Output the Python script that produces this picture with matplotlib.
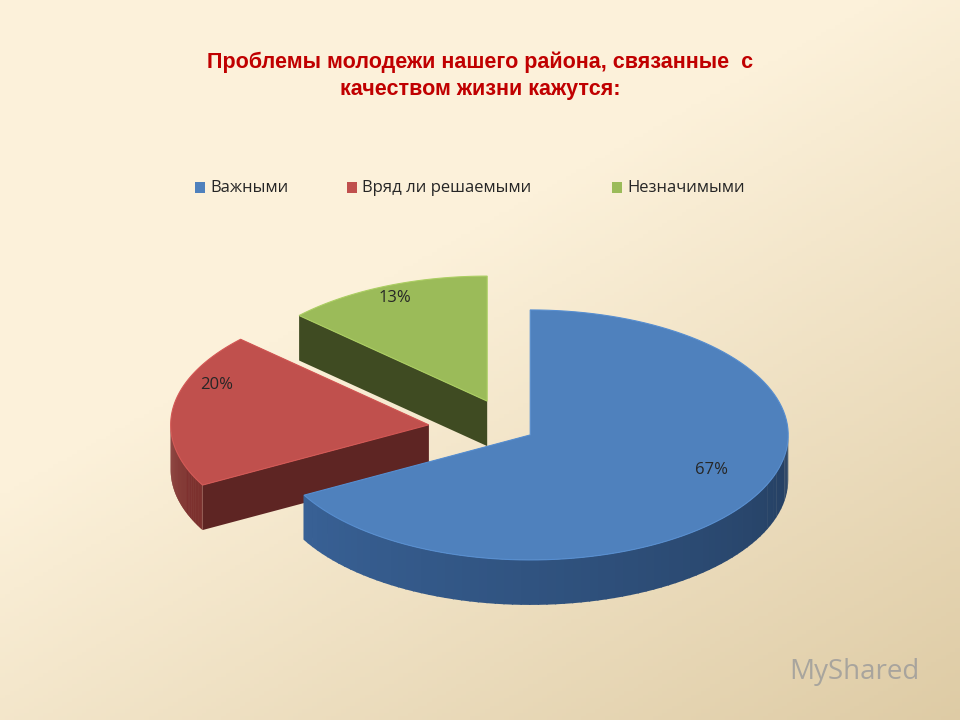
import numpy as np
import matplotlib.pyplot as plt
from matplotlib.patches import Polygon
from matplotlib.colors import to_rgb

labels = ["Важными", "Вряд ли решаемыми", "Незначимыми"]
shares = [67, 20, 13]
top_colors = ["#4F81BD", "#C0504D", "#9BBB59"]
side_colors = ["#2B4A72", "#5E2523", "#3F4B22"]
explode = [20, 85, 65]

fig = plt.figure(figsize=(9.6, 7.2), dpi=100)
bg = fig.add_axes([0, 0, 1, 1])
yy, xx = np.mgrid[0:1:200j, 0:1:200j]
t = np.clip((xx * 0.6 + yy * 0.8) - 0.55, 0, 1)
c0, c1 = np.array(to_rgb("#FCF1DA")), np.array(to_rgb("#D9C59C"))
bg.imshow(c0 + (c1 - c0) * t[..., None], extent=[0, 960, 720, 0], aspect="auto")
ax = bg
ax.set_xlim(0, 960); ax.set_ylim(720, 0); ax.axis("off")

cx, cy, rx, ry, depth = 513, 430, 258, 125, 45

def pt(th, ox, oy):
    r = np.radians(th)
    return cx + rx * np.sin(r) + ox, cy - ry * np.cos(r) + oy

def shade(c, f):
    return tuple(np.clip(np.array(to_rgb(c)) * f, 0, 1))

starts = np.concatenate([[0], np.cumsum(shares)[:-1]]) * 3.6
wedges = []
for i, s in enumerate(shares):
    a0, a1 = starts[i], starts[i] + s * 3.6
    m = np.radians((a0 + a1) / 2)
    ox, oy = explode[i] * np.sin(m), -explode[i] * np.cos(m) * ry / rx
    wedges.append((i, a0, a1, ox, oy))

# painter order: back wedges first
for i, a0, a1, ox, oy in sorted(wedges, key=lambda w: w[4]):
    c = (cx + ox, cy + oy)
    for a in (a0, a1):
        p = pt(a, ox, oy)
        ax.add_patch(Polygon([c, p, (p[0], p[1] + depth), (c[0], c[1] + depth)],
                             closed=True, fc=side_colors[i], ec="none"))
    lo, hi = max(a0, 90), min(a1, 270)
    if hi > lo:
        th = np.linspace(lo, hi, 80)
        for k in range(len(th) - 1):
            p1, p2 = pt(th[k], ox, oy), pt(th[k + 1] + 0.3, ox, oy)
            f = 0.85 + 0.55 * (th[k] - 90) / 180
            ax.add_patch(Polygon([p1, p2, (p2[0], p2[1] + depth), (p1[0], p1[1] + depth)],
                                 closed=True, fc=shade(side_colors[i], f), ec="none"))
    th = np.linspace(a0, a1, 120)
    poly = [c] + [pt(a, ox, oy) for a in th]
    ax.add_patch(Polygon(poly, closed=True, fc=top_colors[i], ec=shade(top_colors[i], 1.1), lw=0.8))

label_pos = [(712, 470), (217, 385), (395, 298)]
for (x, y), s in zip(label_pos, shares):
    ax.text(x, y, f"{s}%", ha="center", va="center", fontsize=12, color="#262626", family="Open Sans")

ax.text(480, 76, "Проблемы молодежи нашего района, связанные  с\nкачеством жизни кажутся:",
        ha="center", va="center", fontsize=15.5, fontweight="bold", color="#C00000",
        family="Liberation Sans", linespacing=1.4)

lx = [200, 352, 617]
for x, lab, col in zip(lx, labels, top_colors):
    ax.add_patch(Polygon([(x - 5, 182), (x + 5, 182), (x + 5, 193), (x - 5, 193)], fc=col, ec="none"))
    ax.text(x + 10, 188, lab, ha="left", va="center", fontsize=12, color="#262626", family="Open Sans")

ax.text(920, 672, "MyShared", ha="right", va="center", fontsize=20, color="#9A9A9A", alpha=0.8,
        family="Open Sans")

fig.savefig("out.png", dpi=100)
